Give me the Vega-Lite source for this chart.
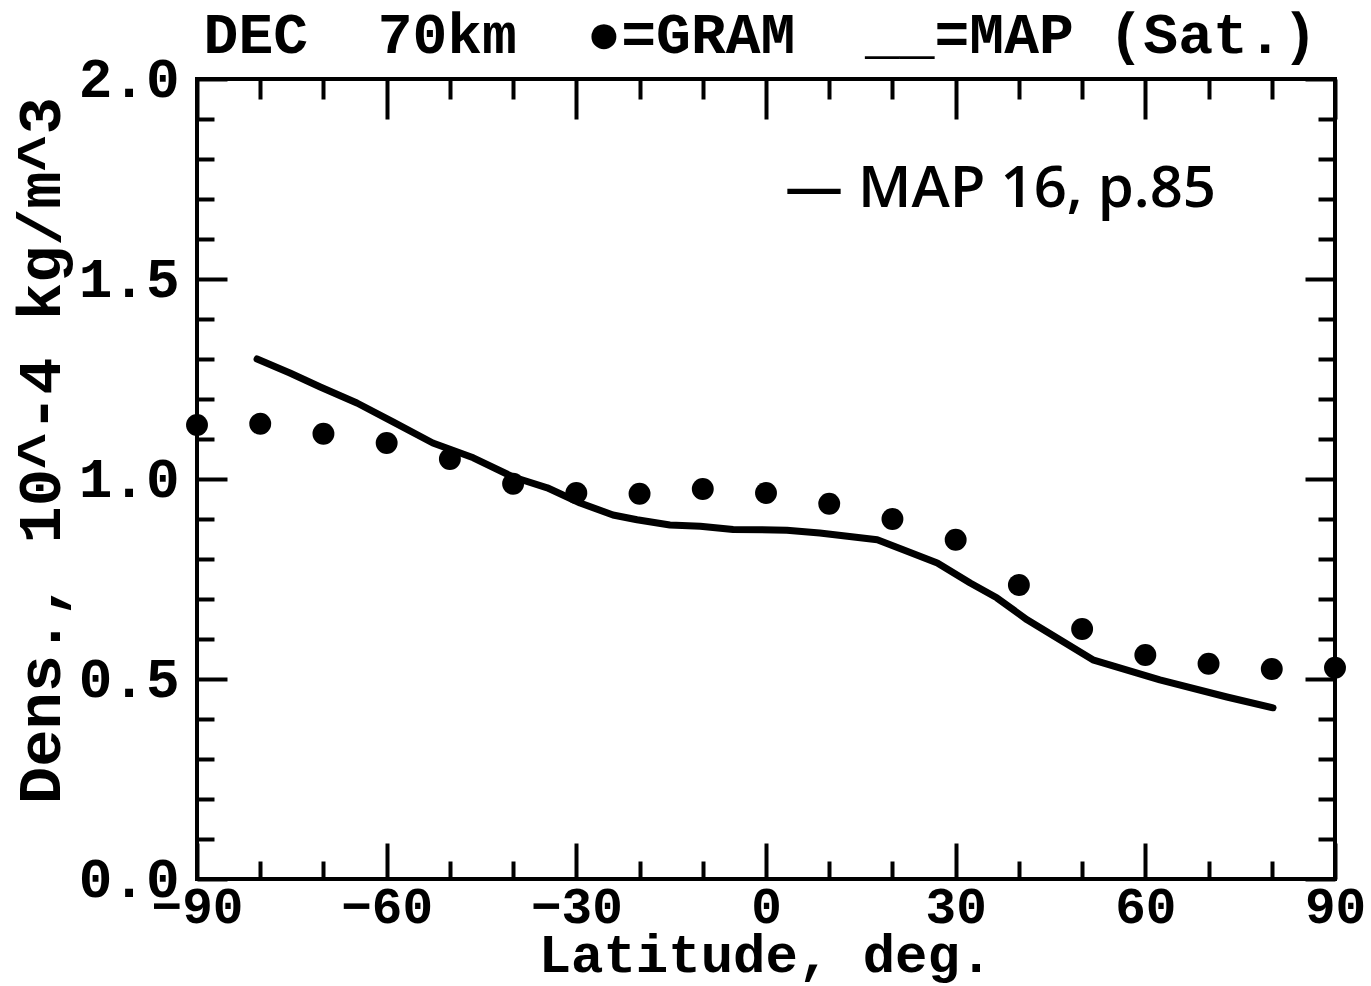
{
  "$schema": "https://vega.github.io/schema/vega-lite/v6.json",
  "width": 1138,
  "height": 800,
  "autosize": {"type": "none"},
  "padding": {"left": 197, "top": 79, "right": 36, "bottom": 107},
  "background": "white",
  "config": {
    "view": {"stroke": "black", "strokeWidth": 4},
    "axis": {"domain": false, "grid": false, "tickColor": "black", "tickWidth": 4, "labelColor": "black", "titleColor": "black"}
  },
  "datasets": {
    "gram": [
      {"lat": -90, "dens": 1.135},
      {"lat": -80, "dens": 1.138},
      {"lat": -70, "dens": 1.113},
      {"lat": -60, "dens": 1.09},
      {"lat": -50, "dens": 1.05},
      {"lat": -40, "dens": 0.988},
      {"lat": -30, "dens": 0.965},
      {"lat": -20, "dens": 0.963},
      {"lat": -10, "dens": 0.975},
      {"lat": 0, "dens": 0.965},
      {"lat": 10, "dens": 0.938},
      {"lat": 20, "dens": 0.9},
      {"lat": 30, "dens": 0.848},
      {"lat": 40, "dens": 0.735},
      {"lat": 50, "dens": 0.625},
      {"lat": 60, "dens": 0.56},
      {"lat": 70, "dens": 0.538},
      {"lat": 80, "dens": 0.525},
      {"lat": 90, "dens": 0.528}
    ],
    "map": [
      {"lat": -80.5, "dens": 1.3},
      {"lat": -75.3, "dens": 1.265},
      {"lat": -70.5, "dens": 1.23},
      {"lat": -64.7, "dens": 1.19},
      {"lat": -59.0, "dens": 1.143},
      {"lat": -52.7, "dens": 1.09},
      {"lat": -46.3, "dens": 1.053},
      {"lat": -40.0, "dens": 1.005},
      {"lat": -34.6, "dens": 0.978},
      {"lat": -29.4, "dens": 0.94},
      {"lat": -24.2, "dens": 0.91},
      {"lat": -20.4, "dens": 0.898},
      {"lat": -15.2, "dens": 0.885},
      {"lat": -10.4, "dens": 0.882},
      {"lat": -5.2, "dens": 0.874},
      {"lat": 3.3, "dens": 0.872},
      {"lat": 8.5, "dens": 0.865},
      {"lat": 17.6, "dens": 0.848},
      {"lat": 21.7, "dens": 0.823},
      {"lat": 27.1, "dens": 0.79},
      {"lat": 32.3, "dens": 0.74},
      {"lat": 36.5, "dens": 0.703},
      {"lat": 41.3, "dens": 0.648},
      {"lat": 46.5, "dens": 0.598},
      {"lat": 51.7, "dens": 0.548},
      {"lat": 62.3, "dens": 0.498},
      {"lat": 72.9, "dens": 0.455},
      {"lat": 80.2, "dens": 0.428}
    ],
    "note": [
      {"lat": 3, "dens": 1.722, "label": "— MAP 16, p.85"}
    ]
  },
  "resolve": {"axis": {"x": "independent", "y": "independent"}},
  "layer": [
    {
      "data": {"name": "gram"},
      "mark": {"type": "point", "shape": "circle", "filled": true, "color": "black", "opacity": 1, "size": 480},
      "encoding": {
        "x": {
          "field": "lat", "type": "quantitative",
          "scale": {"domain": [-90, 90], "nice": false, "zero": false},
          "axis": {
            "orient": "bottom",
            "values": [-90, -80, -70, -60, -50, -40, -30, -20, -10, 0, 10, 20, 30, 40, 50, 60, 70, 80, 90],
            "tickSize": {"condition": {"test": "datum.value % 30 === 0", "value": -36}, "value": -18},
            "labelExpr": "datum.value % 30 === 0 ? format(datum.value, 'd') : ''",
            "labelFont": "Liberation Mono", "labelFontWeight": "bold", "labelFontSize": 51,
            "labelPadding": 39, "labelFlush": false, "labelOverlap": false,
            "title": "Latitude, deg.",
            "titleFont": "Liberation Mono", "titleFontWeight": "bold", "titleFontSize": 54,
            "titleX": 568, "titleY": 76, "titleAlign": "center", "titleBaseline": "middle", "titleAngle": 0
          }
        },
        "y": {
          "field": "dens", "type": "quantitative",
          "scale": {"domain": [0, 2], "nice": false, "zero": false},
          "axis": {
            "orient": "left",
            "values": [0, 0.1, 0.2, 0.3, 0.4, 0.5, 0.6, 0.7, 0.8, 0.9, 1.0, 1.1, 1.2, 1.3, 1.4, 1.5, 1.6, 1.7, 1.8, 1.9, 2.0],
            "tickSize": {"condition": {"test": "abs(datum.value * 2 - round(datum.value * 2)) < 0.001", "value": -30}, "value": -17},
            "labelExpr": "abs(datum.value * 2 - round(datum.value * 2)) < 0.001 ? format(datum.value, '.1f') : ''",
            "labelFont": "Liberation Mono", "labelFontWeight": "bold", "labelFontSize": 56,
            "labelPadding": 48, "labelFlush": false, "labelOverlap": false, "labelBaseline": "middle",
            "title": "Dens., 10^-4 kg/m^3",
            "titleFont": "Liberation Mono", "titleFontWeight": "bold", "titleFontSize": 62,
            "titleX": -157, "titleY": 371, "titleAlign": "center", "titleBaseline": "middle", "titleAngle": -90
          }
        }
      }
    },
    {
      "data": {"name": "map"},
      "mark": {"type": "line", "color": "black", "strokeWidth": 7, "strokeCap": "round", "strokeJoin": "round"},
      "encoding": {
        "x": {
          "field": "lat", "type": "quantitative",
          "axis": {
            "orient": "top",
            "values": [-90, -80, -70, -60, -50, -40, -30, -20, -10, 0, 10, 20, 30, 40, 50, 60, 70, 80, 90],
            "tickSize": {"condition": {"test": "datum.value % 30 === 0", "value": -40}, "value": -20},
            "labels": false,
            "title": "DEC\u00a0\u00a070km\u00a0\u00a0●=GRAM\u00a0\u00a0__=MAP\u00a0(Sat.)",
            "titleFont": "Liberation Mono", "titleFontWeight": "bold", "titleFontSize": 58,
            "titleX": 563, "titleY": -27, "titleAlign": "center", "titleBaseline": "alphabetic", "titleAngle": 0
          }
        },
        "y": {
          "field": "dens", "type": "quantitative",
          "axis": {
            "orient": "right",
            "values": [0, 0.1, 0.2, 0.3, 0.4, 0.5, 0.6, 0.7, 0.8, 0.9, 1.0, 1.1, 1.2, 1.3, 1.4, 1.5, 1.6, 1.7, 1.8, 1.9, 2.0],
            "tickSize": {"condition": {"test": "abs(datum.value * 2 - round(datum.value * 2)) < 0.001", "value": -30}, "value": -17},
            "labels": false, "title": null
          }
        }
      }
    },
    {
      "data": {"name": "note"},
      "mark": {"type": "text", "align": "left", "baseline": "middle", "font": "Open Sans", "fontWeight": 600, "fontSize": 58, "color": "black"},
      "encoding": {
        "x": {"field": "lat", "type": "quantitative", "axis": null},
        "y": {"field": "dens", "type": "quantitative", "axis": null},
        "text": {"field": "label"}
      }
    }
  ]
}
